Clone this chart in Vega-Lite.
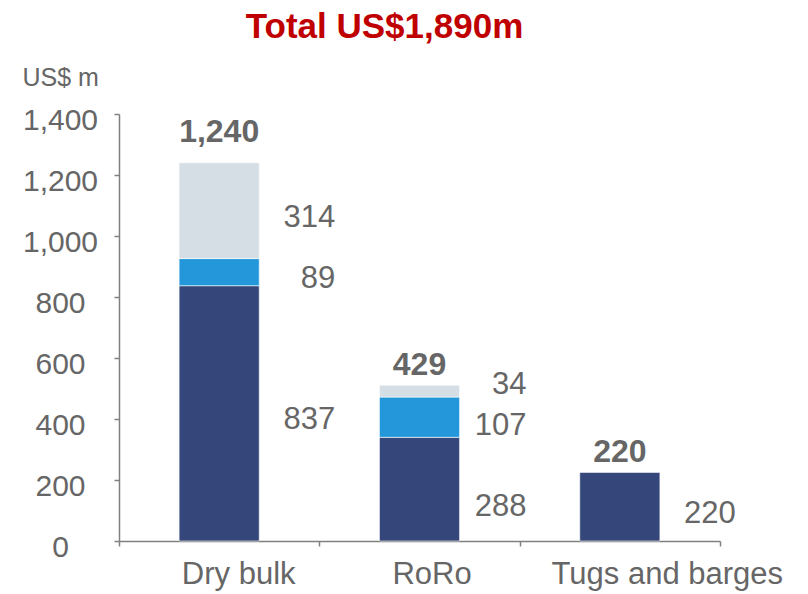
{
  "$schema": "https://vega.github.io/schema/vega-lite/v6.json",
  "width": 601,
  "height": 427,
  "autosize": {"type": "none"},
  "padding": {"left": 119, "top": 114, "right": 88, "bottom": 53},
  "background": "white",
  "title": {
    "text": "Total US$1,890m",
    "color": "#C00000",
    "fontSize": 35,
    "fontWeight": "bold",
    "font": "Liberation Sans",
    "anchor": "middle",
    "dx": -35,
    "offset": 20
  },
  "config": {
    "view": {"stroke": null},
    "font": "Liberation Sans",
    "text": {"font": "Liberation Sans"},
    "axisY": {
      "title": "US$ m",
      "titleAngle": 0,
      "titleAlign": "left",
      "titleBaseline": "alphabetic",
      "titleX": -97,
      "titleY": -29,
      "titleFontSize": 25,
      "titleFontWeight": "normal",
      "titleColor": "#666666",
      "grid": false,
      "labelFontSize": 30,
      "labelColor": "#666666",
      "labelAlign": "center",
      "labelPadding": 54,
      "labelOffset": 6,
      "tickSize": 5,
      "tickColor": "#808080",
      "tickWidth": 1.5,
      "domainColor": "#808080",
      "domainWidth": 1.5
    }
  },
  "data": {
    "values": [
      {"category": "Dry bulk", "part": "1", "order": 1, "value": 837, "label": 837, "total": 1240},
      {"category": "Dry bulk", "part": "2", "order": 2, "value": 89, "label": 89, "total": 1240},
      {"category": "Dry bulk", "part": "3", "order": 3, "value": 314, "label": 314, "total": 1240},
      {"category": "RoRo", "part": "1", "order": 1, "value": 340, "label": 288, "total": 429},
      {"category": "RoRo", "part": "2", "order": 2, "value": 132, "label": 107, "total": 429},
      {"category": "RoRo", "part": "3", "order": 3, "value": 39, "label": 34, "total": 429},
      {"category": "Tugs and barges", "part": "1", "order": 1, "value": 225, "label": 220, "total": 220}
    ]
  },
  "layer": [
    {
      "mark": {"type": "bar", "width": {"band": 0.4}, "stroke": "#ffffff", "strokeWidth": 0.6},
      "encoding": {
        "x": {
          "field": "category",
          "type": "nominal",
          "sort": ["Dry bulk", "RoRo", "Tugs and barges"],
          "scale": {"paddingInner": 0, "paddingOuter": 0},
          "axis": {
            "title": null,
            "labelAngle": 0,
            "labelFontSize": 31,
            "labelColor": "#666666",
            "labelPadding": 13,
            "labelBaseline": "top",
            "labelLimit": 400,
            "labelOffset": {
              "condition": [
                {"test": "datum.value === 'Tugs and barges'", "value": 47},
                {"test": "datum.value === 'RoRo'", "value": 12}
              ],
              "value": 19
            },
            "tickBand": "extent",
            "tickSize": 5,
            "tickColor": "#808080",
            "tickWidth": 1.5,
            "domainColor": "#808080",
            "domainWidth": 1.5
          }
        },
        "y": {
          "aggregate": "sum",
          "field": "value",
          "type": "quantitative",
          "title": "US$ m",
          "scale": {"domain": [0, 1400]},
          "axis": {"values": [0, 200, 400, 600, 800, 1000, 1200, 1400], "format": ",.0f"}
        },
        "color": {
          "field": "part",
          "type": "nominal",
          "scale": {"domain": ["1", "2", "3"], "range": ["#34467A", "#2397DA", "#D4DEE4"]},
          "legend": null
        },
        "order": {"field": "order", "type": "quantitative"}
      }
    },
    {
      "transform": [
        {"stack": "value", "groupby": ["category"], "sort": [{"field": "order", "order": "ascending"}], "as": ["y0", "y1"]},
        {"fold": ["y0", "y1"], "as": ["edge", "pos"]},
        {"aggregate": [{"op": "mean", "field": "pos", "as": "mid"}], "groupby": ["category", "part", "label"]}
      ],
      "mark": {
        "type": "text",
        "align": "right",
        "baseline": "middle",
        "dx": {"expr": "datum.category === 'RoRo' ? 107 : 116"},
        "dy": {"expr": "datum.category === 'RoRo' ? (datum.part === '3' ? -6 : datum.part === '2' ? 9 : 18) : 7"},
        "fontSize": 31,
        "color": "#666666"
      },
      "encoding": {
        "x": {"field": "category", "type": "nominal", "sort": ["Dry bulk", "RoRo", "Tugs and barges"]},
        "y": {
          "field": "mid",
          "type": "quantitative",
          "title": "US$ m",
          "axis": {"values": [0, 200, 400, 600, 800, 1000, 1200, 1400], "format": ",.0f"}
        },
        "text": {"field": "label", "type": "quantitative", "format": ","}
      }
    },
    {
      "transform": [
        {"aggregate": [{"op": "sum", "field": "value", "as": "top"}, {"op": "max", "field": "total", "as": "total"}], "groupby": ["category"]}
      ],
      "mark": {
        "type": "text",
        "align": "center",
        "baseline": "alphabetic",
        "dy": {"expr": "datum.category === 'Dry bulk' ? -21 : -10"},
        "fontSize": 32,
        "fontWeight": "bold",
        "color": "#666666"
      },
      "encoding": {
        "x": {"field": "category", "type": "nominal", "sort": ["Dry bulk", "RoRo", "Tugs and barges"]},
        "y": {
          "field": "top",
          "type": "quantitative",
          "title": "US$ m",
          "axis": {"values": [0, 200, 400, 600, 800, 1000, 1200, 1400], "format": ",.0f"}
        },
        "text": {"field": "total", "type": "quantitative", "format": ","}
      }
    }
  ]
}
